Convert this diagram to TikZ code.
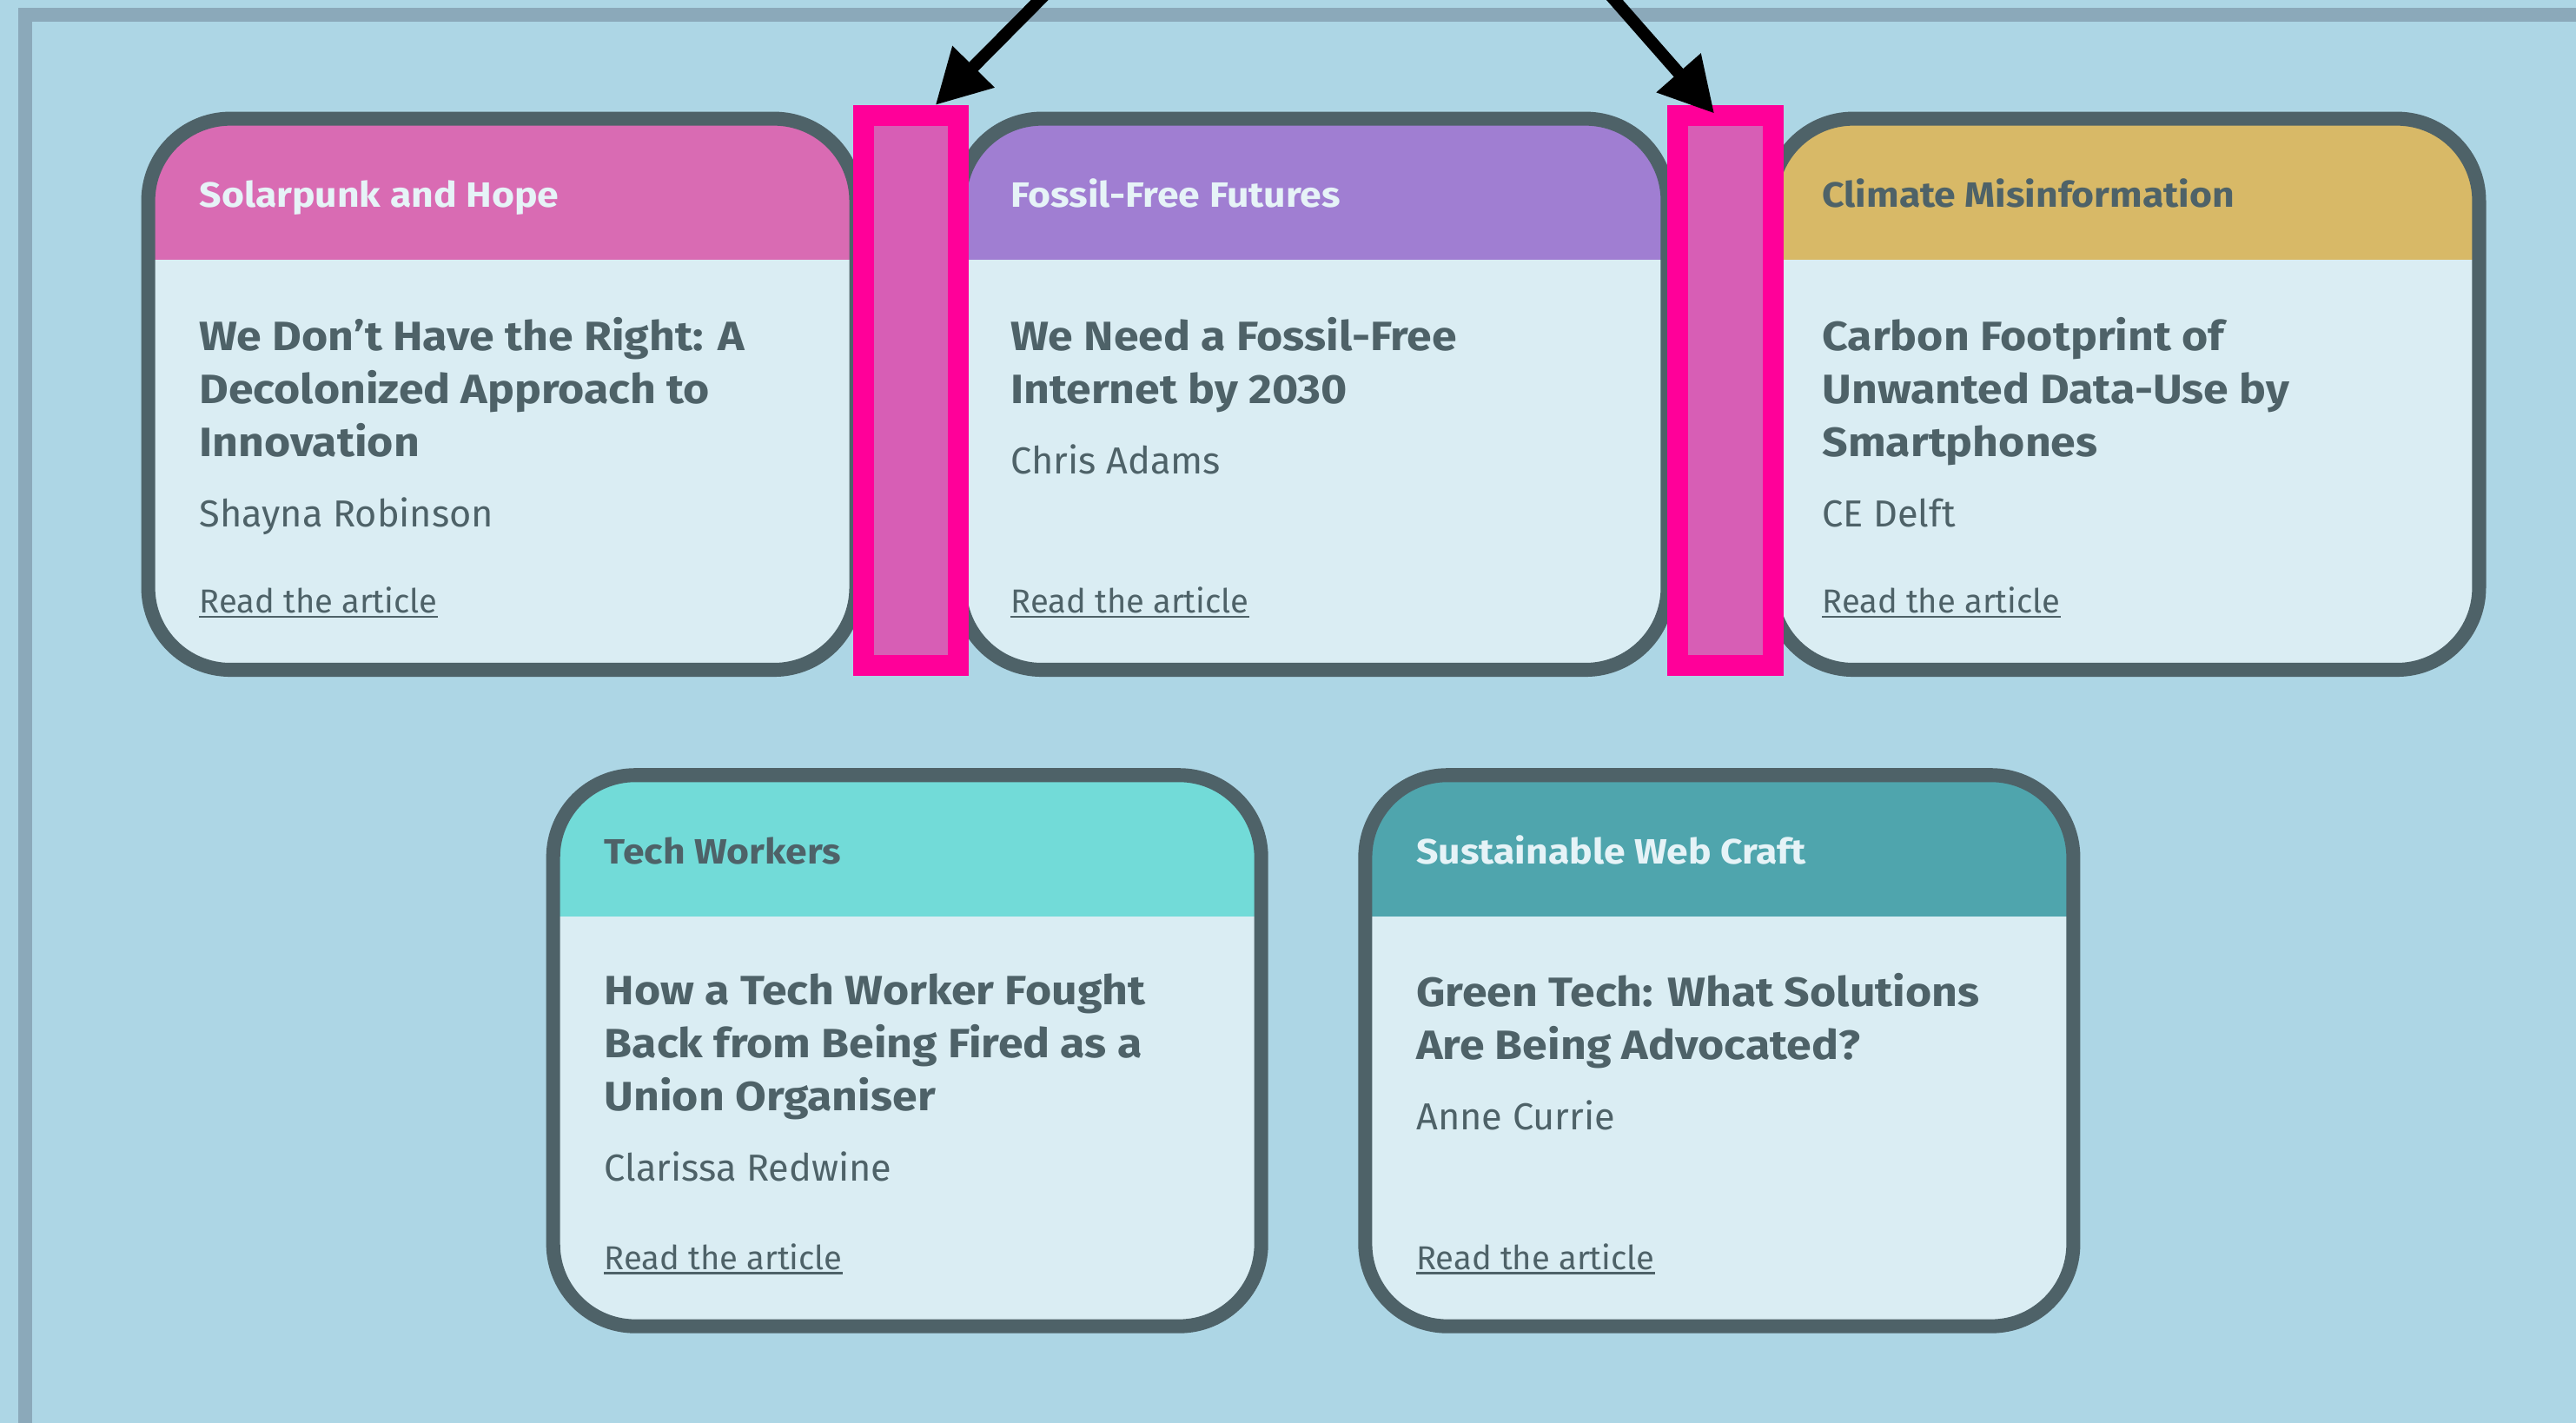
\documentclass[tikz,border=0pt]{standalone}
\usepackage{fontspec}
\setmainfont{Fira Sans}
\newfontfamily\widesans{Fira Sans}[FakeStretch=1.1]
\usetikzlibrary{positioning,calc,arrows.meta}

\definecolor{pagebg}{HTML}{ADD6E5}
\definecolor{framegrey}{HTML}{8BA9BA}
\definecolor{cardbody}{HTML}{DAEDF3}
\definecolor{cardline}{HTML}{4E6268}
\definecolor{inkdark}{HTML}{4E6268}
\definecolor{inklight}{HTML}{E6F3F7}
\definecolor{hdpink}{HTML}{D96BB3}
\definecolor{hdpurple}{HTML}{A07ED2}
\definecolor{hdgold}{HTML}{D8B967}
\definecolor{hdcyan}{HTML}{72DBD8}
\definecolor{hdteal}{HTML}{4FA5AD}
\definecolor{hotpink}{HTML}{FF0099}
\definecolor{gapfill}{HTML}{D75EB5}

\tikzset{
    card/.style={rectangle, rounded corners=50pt, minimum width=431pt, minimum height=335.5pt, inner sep=0pt, outer sep=0pt},
    cardedge/.style={draw=cardline, line width=8.5pt, rounded corners=50pt},
    headtxt/.style={anchor=base west, inner sep=0pt, font=\widesans\fontsize{21.4}{25}\selectfont\bfseries},
    titletxt/.style={anchor=north west, inner sep=0pt, align=left, text=inkdark, font=\widesans\fontsize{24.9}{32.3}\selectfont\bfseries, execute at begin node=\strut, execute at end node=\strut},
    authortxt/.style={anchor=base west, inner sep=0pt, text=inkdark, font=\fontsize{22.9}{27}\selectfont},
    linktxt/.style={anchor=base west, inner sep=0pt, text=inkdark, font=\fontsize{20.2}{24}\selectfont},
    gapbox/.style={draw=hotpink, fill=gapfill, line width=12.7pt, minimum width=57.8pt, minimum height=334.5pt, inner sep=0pt},
    pointer/.style={-{Triangle[length=33pt,width=34pt]}, line width=7.5pt, black}
}

\begin{document}
\begin{tikzpicture}[x=1pt, y=-1pt]
    \useasboundingbox (0,0) rectangle (1568,866);
    \fill[pagebg] (0,0) rectangle (1568,866);
    \draw[framegrey, line width=8.5pt] (15.3,872) -- (15.3,9) -- (1575,9);

    % Cards
    \foreach \x/\y/\hc/\tc/\head/\ttl/\who [count=\i] in {
        305.7/240/hdpink/inklight/{Solarpunk and Hope}/{We Don’t Have the Right: A\\Decolonized Approach to\\Innovation}/{Shayna Robinson},
        799.6/240/hdpurple/inklight/{Fossil-Free Futures}/{We Need a Fossil-Free\\Internet by 2030}/{Chris Adams},
        1293.5/240/hdgold/inkdark/{Climate Misinformation}/{Carbon Footprint of\\Unwanted Data-Use by\\Smartphones}/{CE Delft},
        552.2/639.6/hdcyan/inkdark/{Tech Workers}/{How a Tech Worker Fought\\Back from Being Fired as a\\Union Organiser}/{Clarissa Redwine},
        1046.5/639.6/hdteal/inklight/{Sustainable Web Craft}/{Green Tech: What Solutions\\Are Being Advocated?}/{Anne Currie}}
    {
        \node[card, fill=cardbody, path picture={\fill[\hc, sharp corners] (path picture bounding box.north west) rectangle ([yshift=-86pt]path picture bounding box.north east);}] (card\i) at (\x,\y) {};
        \draw[cardedge] (card\i.north west) rectangle (card\i.south east);
        \node[headtxt, text=\tc] (head\i) at ([xshift=31pt, yshift=-54.1pt]card\i.north west) {\head};
        \node[titletxt] (title\i) at ([xshift=31pt, yshift=-120.5pt]card\i.north west) {\ttl};
        \node[authortxt] (author\i) at ([yshift=-33pt]title\i.south west) {\who};
        \node[linktxt] (link\i) at ([xshift=31pt, yshift=34.7pt]card\i.south west) {Read the article};
        \draw[inkdark, line width=1.4pt] ([yshift=-2.5pt]link\i.base west) -- ([yshift=-2.5pt]link\i.base east);
    }

    % Highlighted gaps
    \node[gapbox] (gap1) at (554.35,237.6) {};
    \node[gapbox] (gap2) at (1050.25,237.6) {};

    % Pointers
    \coordinate (tail1) at (637.8,-5);
    \coordinate (tail2) at (978.4,-5);
    \draw[pointer] (tail1) -- ([xshift=15pt]gap1.north);
    \draw[pointer] (tail2) -- ([xshift=-6.75pt, yshift=-5.1pt]gap2.north);
\end{tikzpicture}
\end{document}
